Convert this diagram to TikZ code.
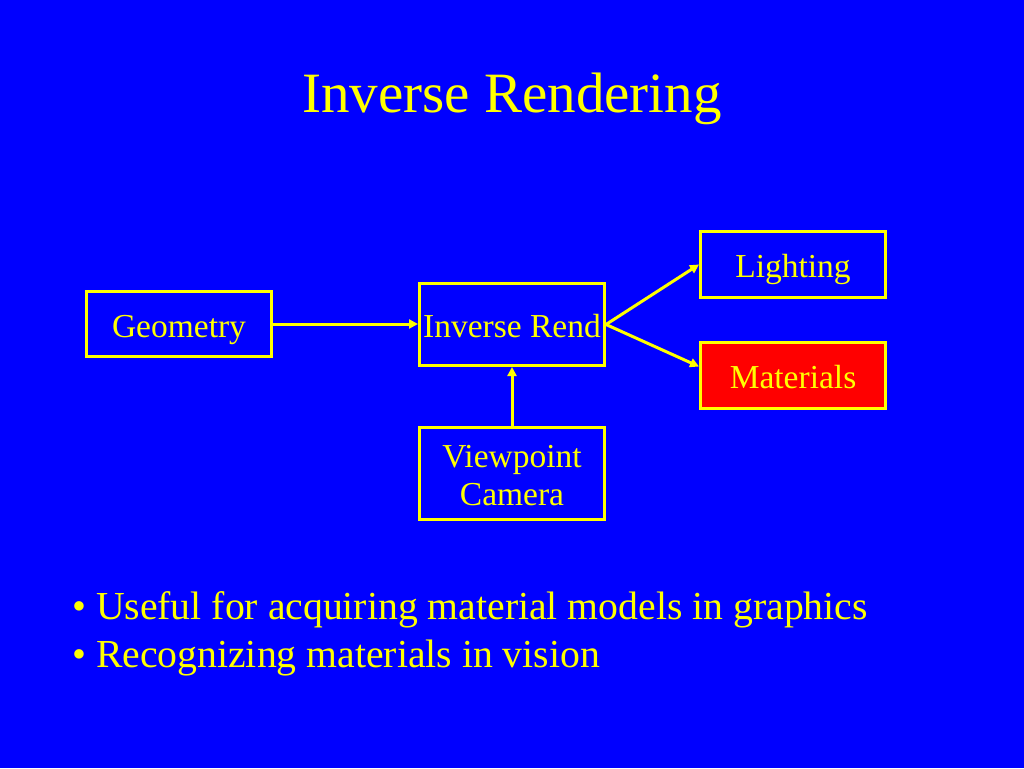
\documentclass[tikz,border=0pt]{standalone}
\usepackage{fontspec}
\setmainfont{Liberation Serif}
\usetikzlibrary{arrows.meta}
\definecolor{bg}{RGB}{0,0,255}
\definecolor{yel}{RGB}{255,255,0}
\definecolor{matred}{RGB}{255,0,0}
\begin{document}
\begin{tikzpicture}[x=1pt,y=-1pt,
  box/.style={draw=yel, line width=3pt, text=yel, font=\fontsize{33.5}{38}\selectfont, inner sep=0pt, align=center, minimum width=185pt, text height=26pt, text depth=0pt},
  conn/.style={draw=yel, line width=3pt, -{Triangle[length=9pt,width=9pt]}},
  txt/.style={text=yel, inner sep=0pt}]
\fill[bg] (0,0) rectangle (1024,768);
\useasboundingbox (0,0) rectangle (1024,768);
\node[txt, anchor=base, font=\fontsize{57}{60}\selectfont] (title) at (512,112) {Inverse Rendering};
\node[box, minimum height=65pt] (geo) at (179,324) {Geometry};
\node[box, minimum height=82pt] (inv) at (512,324.5) {Inverse Rend};
\node[box, minimum height=92pt, text height=63pt] (cam) at (512,473.5) {Viewpoint\\Camera};
\node[box, minimum height=66pt] (lit) at (793,264.5) {Lighting};
\node[box, minimum height=66pt, fill=matred] (mat) at (793,375.5) {Materials};
\draw[conn] (geo.east) -- (geo.east -| inv.west);
\draw[conn] (cam.north) -- (inv.south);
\draw[conn] (inv.east) -- (lit.west);
\draw[conn] (inv.east) -- ([yshift=9pt]mat.west);
\node[txt, anchor=base west, font=\fontsize{39.7}{48}\selectfont] (b1) at (72,619) {• Useful for acquiring material models in graphics};
\node[txt, anchor=base west, font=\fontsize{39.7}{48}\selectfont] (b2) at (72,667) {• Recognizing materials in vision};
\end{tikzpicture}
\end{document}
